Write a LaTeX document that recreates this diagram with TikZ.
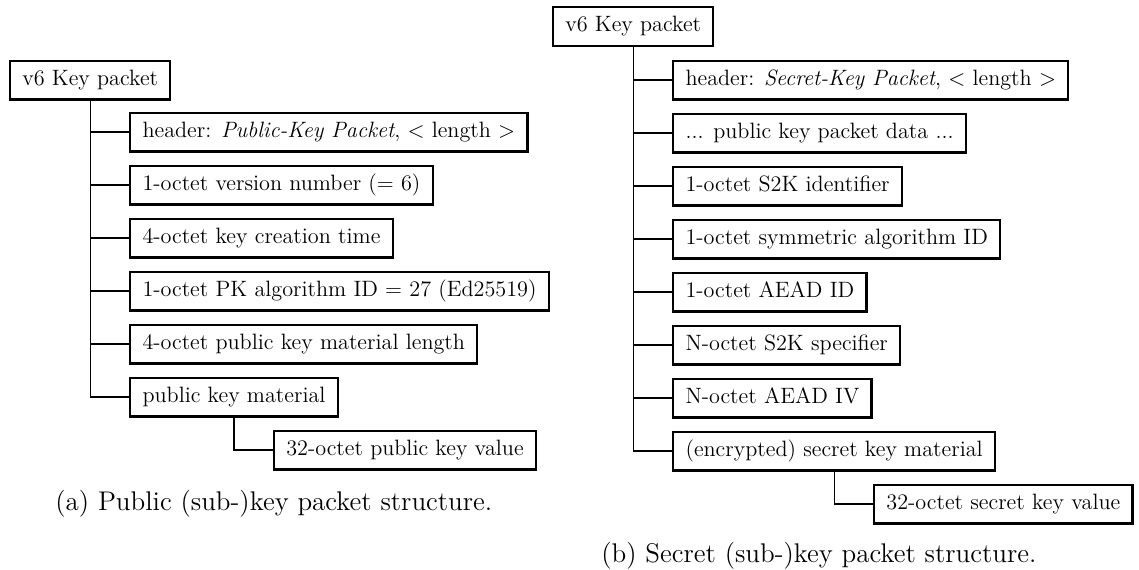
\documentclass[tikz,border=0pt]{standalone}
\usetikzlibrary{calc}
\tikzset{
  pbox/.style={draw, line width=1.1pt, anchor=west, inner xsep=6.1pt, inner ysep=4.3pt,
    text height=8pt, text depth=2.8pt, font=\fontsize{11.1}{13.5}\selectfont},
  pedge/.style={line width=0.6pt},
  capt/.style={anchor=base west, inner sep=0pt, font=\fontsize{13.5}{16}\selectfont}
}
\begin{document}
\begin{tikzpicture}[x=0.5pt, y=-0.5pt]
\useasboundingbox (0,0) rectangle (1139,569);

% ---- public key packet tree ----
\node[pbox] (pr) at (9,80) {v6 Key packet};
\path (pr.south) ++(39,0) coordinate (pc);
\node[pbox] (p1) at (pc |- 0,132) {header: \textit{Public-Key Packet}, $<$ length $>$};
\node[pbox] (p2) at (pc |- 0,185) {1-octet version number (= 6)};
\node[pbox] (p3) at (pc |- 0,238) {4-octet key creation time};
\node[pbox] (p4) at (pc |- 0,291) {1-octet PK algorithm ID = 27 (Ed25519)};
\node[pbox] (p5) at (pc |- 0,344) {4-octet public key material length};
\node[pbox] (p6) at (pc |- 0,397) {public key material};
\path (p6.south) ++(39,0) coordinate (pm);
\node[pbox] (p7) at (pm |- 0,450) {32-octet public key value};
\foreach \c in {p1,p2,p3,p4,p5,p6}
  \draw[pedge] (pr.south) |- (\c.west);
\draw[pedge] (p6.south) |- (p7.west);
\node[capt] (pa) at (55,510) {(a) Public (sub-)key packet structure.};

% ---- secret key packet tree ----
\node[pbox] (sr) at (552,26.5) {v6 Key packet};
\path (sr.south) ++(39,0) coordinate (sc);
\node[pbox] (s1) at (sc |- 0,80)  {header: \textit{Secret-Key Packet}, $<$ length $>$};
\node[pbox] (s2) at (sc |- 0,133) {... public key packet data ...};
\node[pbox] (s3) at (sc |- 0,186) {1-octet S2K identifier};
\node[pbox] (s4) at (sc |- 0,239) {1-octet symmetric algorithm ID};
\node[pbox] (s5) at (sc |- 0,292) {1-octet AEAD ID};
\node[pbox] (s6) at (sc |- 0,345) {N-octet S2K specifier};
\node[pbox] (s7) at (sc |- 0,398) {N-octet AEAD IV};
\node[pbox] (s8) at (sc |- 0,451) {(encrypted) secret key material};
\path (s8.south) ++(39,0) coordinate (sm);
\node[pbox] (s9) at (sm |- 0,504) {32-octet secret key value};
\foreach \c in {s1,s2,s3,s4,s5,s6,s7,s8}
  \draw[pedge] (sr.south) |- (\c.west);
\draw[pedge] (s8.south) |- (s9.west);
\node[capt] (sb) at (601,562) {(b) Secret (sub-)key packet structure.};
\end{tikzpicture}
\end{document}
